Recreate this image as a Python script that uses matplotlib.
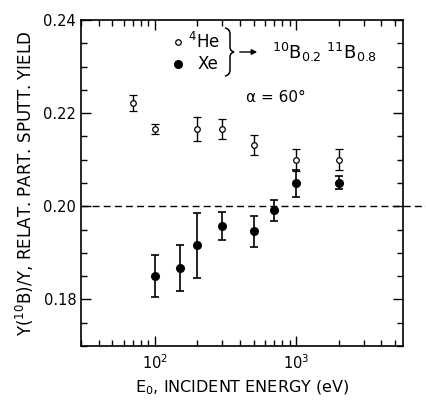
import matplotlib
matplotlib.use("Agg")
import matplotlib.pyplot as plt
import numpy as np
from matplotlib.ticker import LogLocator, MultipleLocator, FixedLocator, NullFormatter
from matplotlib.path import Path
from matplotlib.patches import PathPatch

he_E = [70, 100, 200, 300, 500, 1000, 2000]
he_Y = [0.2222, 0.2166, 0.2166, 0.2166, 0.2132, 0.2100, 0.2100]
he_err = [0.0017, 0.0010, 0.0025, 0.0022, 0.0022, 0.0024, 0.0023]

xe_E = [100, 150, 200, 300, 500, 700, 1000, 2000]
xe_Y = [0.1850, 0.1867, 0.1916, 0.1957, 0.1946, 0.1991, 0.2049, 0.2051]
xe_err = [0.0045, 0.0049, 0.0070, 0.0030, 0.0034, 0.0022, 0.0028, 0.0014]

W, H = 427, 403
fig = plt.figure(figsize=(W/100, H/100), dpi=100)
ax = fig.add_axes([81/W, 1-346/H, (403-81)/W, (346-20)/H])

ax.errorbar(he_E, he_Y, yerr=he_err, fmt='o', mfc='white', mec='black', mew=0.9,
            ms=4, ecolor='black', elinewidth=1, capsize=3, capthick=1)
ax.errorbar(xe_E, xe_Y, yerr=xe_err, fmt='o', mfc='black', mec='black',
            ms=5.5, ecolor='black', elinewidth=1.2, capsize=3, capthick=1.2)

ax.set_xscale('log')
ax.set_xlim(30, 5700)
ax.set_ylim(0.17, 0.24)
ax.yaxis.set_major_locator(FixedLocator([0.18, 0.20, 0.22, 0.24]))
ax.yaxis.set_minor_locator(MultipleLocator(0.005))
ax.set_yticklabels(['0.18', '0.20', '0.22', '0.24'])
ax.xaxis.set_major_locator(FixedLocator([100, 1000]))
ax.xaxis.set_minor_locator(LogLocator(base=10, subs=np.arange(2, 10)))
ax.xaxis.set_minor_formatter(NullFormatter())
ax.tick_params(which='both', direction='in', top=True, right=True, labelsize=10.5)
ax.tick_params(which='major', length=7, width=1)
ax.tick_params(which='minor', length=4, width=1)
ax.tick_params(axis='x', pad=5)
for s in ax.spines.values():
    s.set_linewidth(1.2)

ax.plot([0, 1.08], [0.20, 0.20], transform=ax.get_yaxis_transform(), ls=(0, (5, 3)),
        color='black', lw=1, clip_on=False)

ax.set_xlabel('E$_0$, INCIDENT ENERGY (eV)', fontsize=11.5, labelpad=5)
ax.set_ylabel('Y($^{10}$B)/Y, RELAT. PART. SPUTT. YIELD', fontsize=12, labelpad=5)

def fx(x): return x / W
def fy(y): return 1 - y / H

fig.lines.append(plt.Line2D([fx(178)], [fy(42)], marker='o', ms=4, mfc='white', mec='black', mew=0.9, transform=fig.transFigure))
fig.lines.append(plt.Line2D([fx(178)], [fy(64)], marker='o', ms=5.5, mfc='black', mec='black', transform=fig.transFigure))
fig.text(fx(188), fy(42), '$^4$He', fontsize=12, va='center', ha='left')
fig.text(fx(198), fy(64), 'Xe', fontsize=12, va='center', ha='left')

# curly brace drawn as a path (pixel coords)
bp = [(225, 28), (230, 29), (230, 34), (230, 47), (230, 51), (234, 52),
      (230, 53), (230, 57), (230, 70), (230, 75), (225, 76)]
verts = [(fx(x), fy(y)) for x, y in bp]
codes = [Path.MOVETO, Path.CURVE3, Path.CURVE3, Path.LINETO, Path.CURVE3, Path.CURVE3,
         Path.CURVE3, Path.CURVE3, Path.LINETO, Path.CURVE3, Path.CURVE3]
fig.patches.append(PathPatch(Path(verts, codes), fill=False, lw=1.1, ec='black',
                             transform=fig.transFigure))

ax.annotate('', xy=(fx(260), fy(52)), xytext=(fx(237), fy(52)), xycoords='figure fraction',
            arrowprops=dict(arrowstyle='-|>', color='black', lw=1, mutation_scale=8))
fig.text(fx(272), fy(52), '$^{10}$B$_{0.2}$ $^{11}$B$_{0.8}$', fontsize=13, va='center', ha='left')
fig.text(fx(246), fy(97), 'α = 60°', fontsize=11, va='center', ha='left')

fig.savefig('out.png', dpi=100)
